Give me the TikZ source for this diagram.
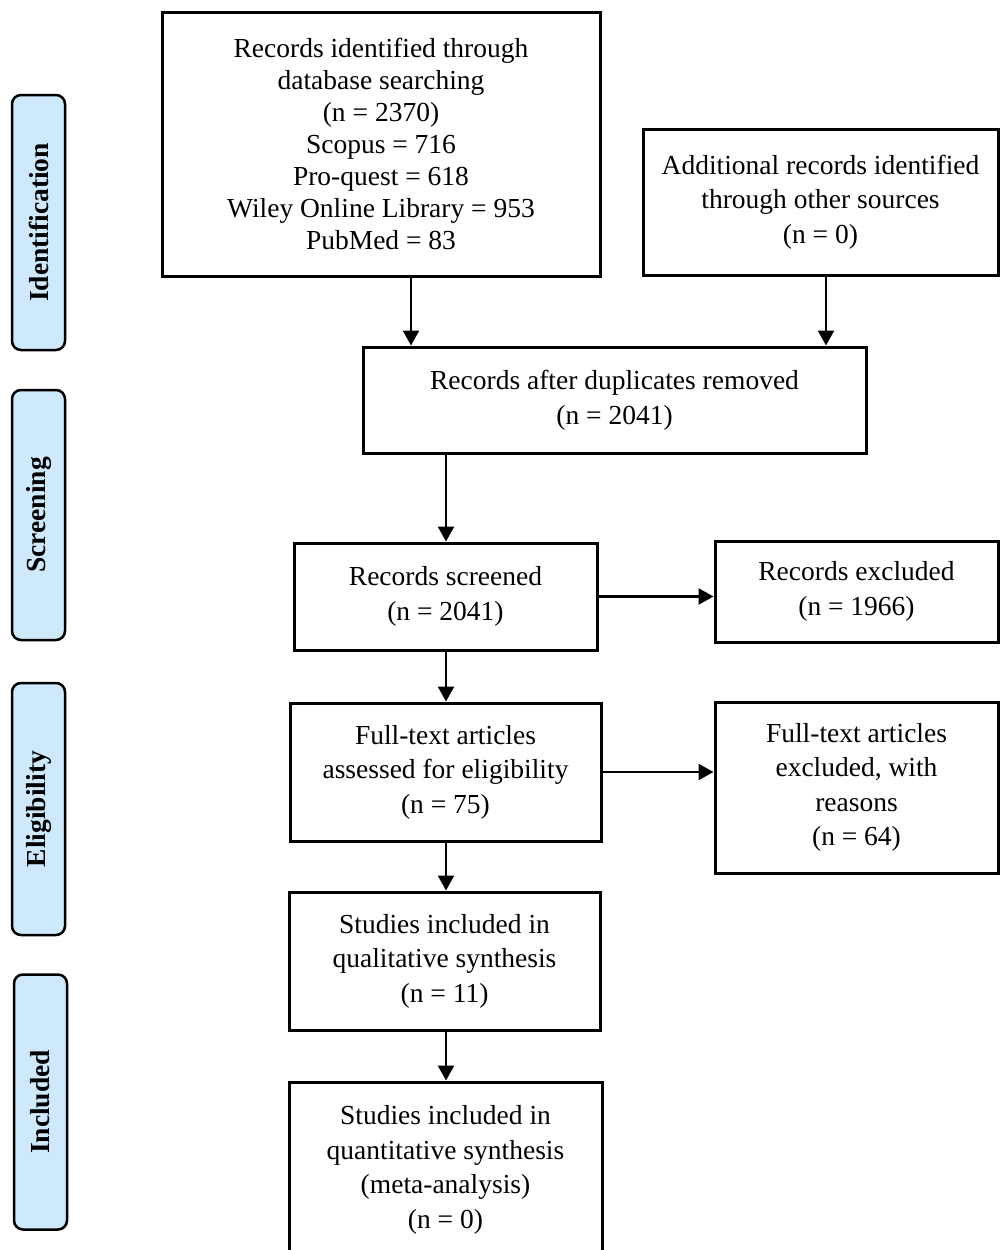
\documentclass[tikz,border=0pt]{standalone}
\usepackage{fontspec}
\setmainfont{Liberation Serif}
\usetikzlibrary{arrows.meta,calc}
\definecolor{sidefill}{RGB}{205,233,251}
\tikzset{
  box/.style={draw=black, line width=3pt, align=center, inner sep=0pt,
    font=\fontsize{27.5}{34.5}\selectfont},
  tightbox/.style={box, font=\fontsize{27.5}{32}\selectfont},
  side/.style={draw=black, line width=2.5pt, fill=sidefill, rounded corners=9pt,
    rotate=90, inner sep=0pt, font=\fontsize{27.5}{30}\selectfont\bfseries,
    minimum height=53pt},
  arr/.style={line width=2.5pt, -{Triangle[length=15pt,width=16pt]}}
}
\begin{document}
\begin{tikzpicture}[x=1pt,y=-1pt]
\useasboundingbox (0,0) rectangle (1000,1250);
% side labels
\node[side, minimum width=255pt] (sid) at (38.5,222.5) {Identification};
\node[side, minimum width=250pt] (sscr) at (38.5,515) {Screening};
\node[side, minimum width=252pt] (selg) at (38.5,809) {Eligibility};
\node[side, minimum width=255pt] (sinc) at (40.5,1102) {Included};
% boxes
\node[tightbox, minimum width=438pt, minimum height=264pt] (b1) at (381,144)
 {Records identified through\\database searching\\(n = 2370)\\Scopus = 716\\Pro-quest = 618\\Wiley Online Library = 953\\PubMed = 83};
\node[box, minimum width=355pt, minimum height=146pt] (b2) at (820.5,202)
 {Additional records identified\\through other sources\\(n = 0)};
\node[box, minimum width=503pt, minimum height=106pt] (b3) at (614.5,400)
 {Records after duplicates removed\\(n = 2041)};
\node[box, minimum width=303pt, minimum height=107pt] (b4) at (445.5,596.5)
 {Records screened\\(n = 2041)};
\node[box, minimum width=283pt, minimum height=101pt] (b5) at (856.5,591.5)
 {Records excluded\\(n = 1966)};
\node[box, minimum width=311pt, minimum height=138pt] (b6) at (445.5,772)
 {Full-text articles\\assessed for eligibility\\(n = 75)};
\node[box, minimum width=283pt, minimum height=171pt] (b7) at (856.5,787.5)
 {Full-text articles\\excluded, with\\reasons\\(n = 64)};
\node[box, minimum width=311pt, minimum height=138pt] (b8) at (444.5,961)
 {Studies included in\\qualitative synthesis\\(n = 11)};
\node[box, minimum width=313pt, minimum height=176pt] (b9) at (445.5,1170)
 {Studies included in\\quantitative synthesis\\(meta-analysis)\\(n = 0)};
% connector columns
\coordinate (c1) at (411,0);
\coordinate (c2) at (826,0);
\coordinate (c3) at (446,0);
\draw[arr] (b1.south -| c1) -- (b3.north -| c1);
\draw[arr] (b2.south -| c2) -- (b3.north -| c2);
\draw[arr] (b3.south -| c3) -- (b4.north -| c3);
\draw[arr] (b4.east) -- (b4.east -| b5.west);
\draw[arr] (b4.south -| c3) -- (b6.north -| c3);
\draw[arr] (b6.east) -- (b6.east -| b7.west);
\draw[arr] (b6.south -| c3) -- (b8.north -| c3);
\draw[arr] (b8.south -| c3) -- (b9.north -| c3);
\end{tikzpicture}
\end{document}
